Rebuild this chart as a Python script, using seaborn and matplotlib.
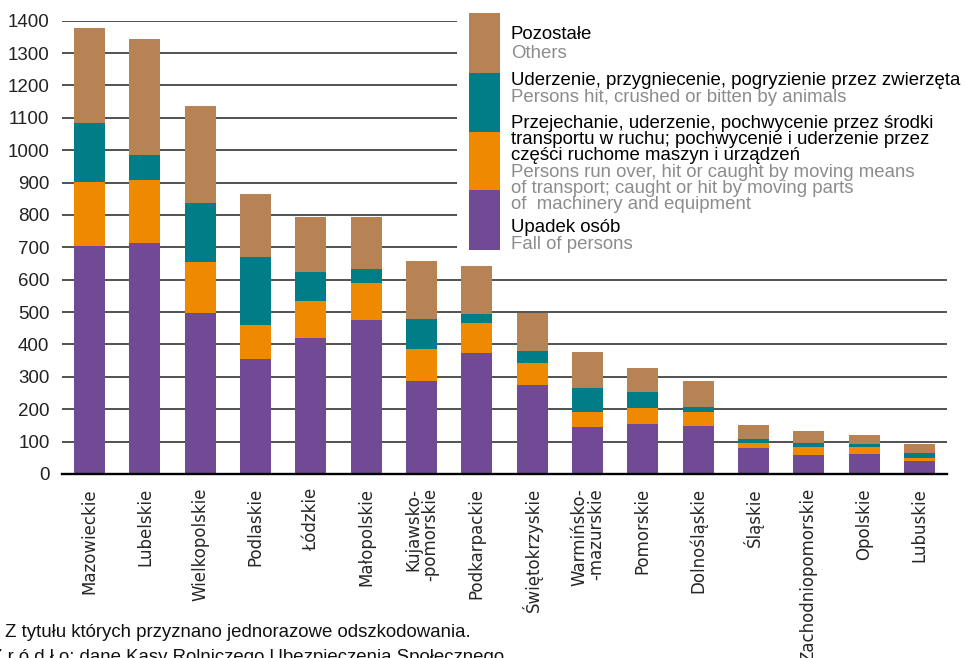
import numpy as np
import pandas as pd
import matplotlib
matplotlib.use("Agg")
import matplotlib.pyplot as plt
from matplotlib.patches import Rectangle
import seaborn as sns

# dane - wypadki wg województw i grup przyczyn
wojewodztwa = ["Mazowieckie", "Lubelskie", "Wielkopolskie", "Podlaskie", "Łódzkie",
               "Małopolskie", "Kujawsko-\n-pomorskie", "Podkarpackie", "Świętokrzyskie",
               "Warmińsko-\n-mazurskie", "Pomorskie", "Dolnośląskie", "Śląskie",
               "Zachodniopomorskie", "Opolskie", "Lubuskie"]
upadek = [704, 713, 497, 355, 420, 476, 287, 374, 275, 145, 154, 148, 80, 59, 62, 40]
przejechanie = [198, 195, 158, 105, 114, 114, 99, 92, 68, 46, 50, 43, 16, 24, 21, 9]
zwierzeta = [182, 77, 182, 210, 90, 43, 93, 28, 37, 75, 49, 16, 12, 13, 10, 16]
pozostale = [293, 358, 299, 195, 170, 161, 179, 148, 118, 111, 74, 80, 43, 37, 27, 28]
y_ticks = list(range(0, 1401, 100))

kolory = ["#714A96", "#EF8A00", "#007D87", "#B88354"]
serie = ["upadek", "przejechanie", "zwierzeta", "pozostale"]

df = pd.DataFrame({"woj": wojewodztwa, "upadek": upadek, "przejechanie": przejechanie,
                   "zwierzeta": zwierzeta, "pozostale": pozostale})
# sumy narastajace do slupkow skumulowanych
cum = df[serie].cumsum(axis=1)
cum["woj"] = df["woj"]

sns.set_style("white")
plt.rcParams["font.family"] = ["Liberation Sans", "DejaVu Sans"]

W, H = 965, 658
fig = plt.figure(figsize=(W / 100, H / 100), dpi=100)
ax = fig.add_axes([62 / W, 1 - 474 / H, (947 - 62) / W, (474 - 20.7) / H])

# rysowanie od najwyzszej warstwy do najnizszej
for s, kol in reversed(list(zip(serie, kolory))):
    sns.barplot(data=cum, x="woj", y=s, color=kol, width=0.56, saturation=1,
                order=wojewodztwa, ax=ax, zorder=3, linewidth=0)

ax.set_ylim(0, 1400)
ax.set_xlim(-0.5, len(wojewodztwa) - 0.5)
ax.set_yticks(y_ticks)
ax.set_xlabel("")
ax.set_ylabel("")
ax.yaxis.grid(True, color="#222222", linewidth=1.1, zorder=0)
ax.set_axisbelow(True)
for sp in ["left", "right", "top"]:
    ax.spines[sp].set_visible(False)
ax.spines["bottom"].set_color("black")
ax.spines["bottom"].set_linewidth(1.7)
ax.spines["bottom"].set_zorder(4)
ax.tick_params(axis="y", length=0, pad=9, labelsize=13.5, colors="#222222")
ax.tick_params(axis="x", length=0, pad=10)
for lab in ax.get_xticklabels():
    lab.set_rotation(90)
    lab.set_fontfamily("DejaVu Sans")
    lab.set_fontsize(12)
    lab.set_va("top")
    lab.set_ha("center")
    lab.set_multialignment("right")
    lab.set_linespacing(0.9)


def fx(x):
    return x / W


def fy(y):
    return 1 - y / H


# biale tlo pod legenda (przykrywa linie siatki)
fig.add_artist(Rectangle((fx(457), fy(256)), fx(947 - 457), (256 - 0) / H,
                         transform=fig.transFigure, facecolor="white", edgecolor="none", zorder=2))

# legenda - pasek kolorow
bloki = [(13, 73, kolory[3]), (73, 132, kolory[2]), (132, 190, kolory[1]), (190, 250, kolory[0])]
for y0, y1, kol in bloki:
    fig.add_artist(Rectangle((fx(469), fy(y1)), fx(31), (y1 - y0) / H,
                             transform=fig.transFigure, facecolor=kol, edgecolor="none", zorder=3))

legenda_txt = [
    (39, "Pozostałe", "black"),
    (57.5, "Others", "#8C8C8C"),
    (85, "Uderzenie, przygniecenie, pogryzienie przez zwierzęta", "black"),
    (101.5, "Persons hit, crushed or bitten by animals", "#8C8C8C"),
    (127.5, "Przejechanie, uderzenie, pochwycenie przez środki", "black"),
    (143.5, "transportu w ruchu; pochwycenie i uderzenie przez", "black"),
    (159.5, "części ruchome maszyn i urządzeń", "black"),
    (176.5, "Persons run over, hit or caught by moving means", "#8C8C8C"),
    (193, "of transport; caught or hit by moving parts", "#8C8C8C"),
    (209, "of  machinery and equipment", "#8C8C8C"),
    (232, "Upadek osób", "black"),
    (249, "Fall of persons", "#8C8C8C"),
]
for yb, txt, kol in legenda_txt:
    fig.text(fx(511), fy(yb), txt, color=kol, fontsize=13.4, va="baseline", ha="left", zorder=4)

# przypisy
fig.text(fx(5), fy(637), "Z tytułu których przyznano jednorazowe odszkodowania.",
         fontsize=13.4, va="baseline", ha="left", color="#111111")
fig.text(fx(-9), fy(662), "Ź r ó d ł o: dane Kasy Rolniczego Ubezpieczenia Społecznego.",
         fontsize=13.4, va="baseline", ha="left", color="#111111")

fig.savefig("out.png", dpi=100)
